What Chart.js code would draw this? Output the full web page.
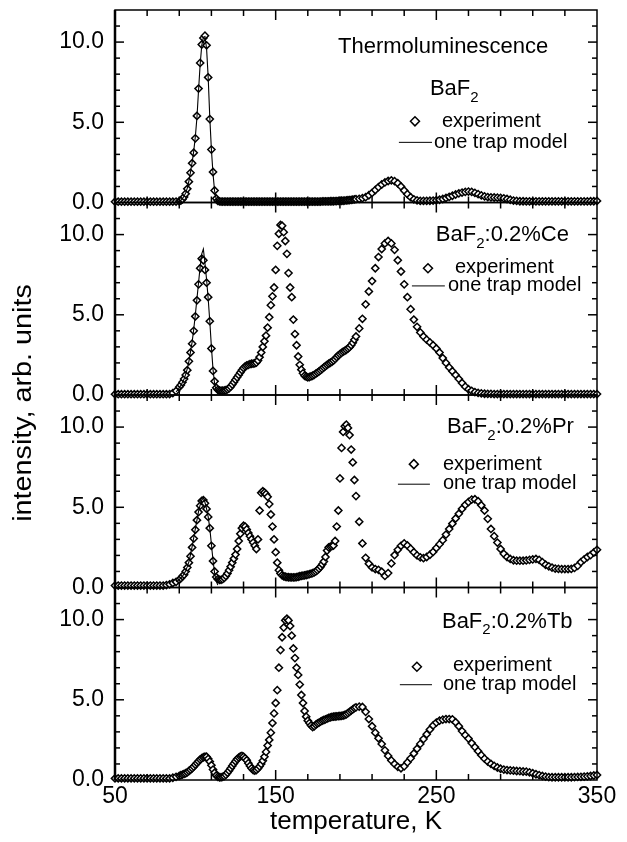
<!DOCTYPE html>
<html><head><meta charset="utf-8">
<script src="https://cdn.jsdelivr.net/npm/chart.js@4.4.1/dist/chart.umd.min.js"></script>
<style>html,body{margin:0;padding:0;background:#fff}#wrap{position:relative;width:627px;height:842px}</style>
</head><body><div id="wrap"><canvas id="c" width="627" height="842"></canvas></div>
<script>
// ---------------- data ----------------
const temperatures = [
50,52,54,56,58,60,62,64,66,68,70,72,74,76,78,80,82,84,86,88,90,
91,92,93,94,95,96,97,98,99,100,101,102,103,104,105,106,107,108,109,110,
111,112,113,114,115,116,117,118,119,120,121,122,123,124,125,126,127,128,129,130,
131,132,133,134,135,136,137,138,139,140,141,142,143,144,145,146,147,148,149,150,
151,152,153,154,155,156,157,158,159,160,161,162,163,164,165,166,167,168,169,170,
171,172,173,174,175,176,177,178,179,180,181,182,183,184,185,186,187,188,189,190,
191,192,193,194,195,196,197,198,199,200,
202,204,206,208,210,212,214,216,218,220,222,224,226,228,230,232,234,236,238,240,
242,244,246,248,250,252,254,256,258,260,262,264,266,268,270,272,274,276,278,280,
282,284,286,288,290,292,294,296,298,300,302,304,306,308,310,312,314,316,318,320,
322,324,326,328,330,332,334,336,338,340,342,344,346,348,350];

const baf2Experiment = [
0.05,0.05,0.05,0.05,0.05,0.05,0.05,0.05,0.05,0.05,0.05,0.05,0.05,0.05,0.05,0.05,0.05,0.05,0.05,0.06,0.08,
0.12,0.2,0.35,0.55,0.85,1.3,1.85,2.45,3.1,4.0,
5.4,7.1,8.7,9.85,10.25,10.4,9.8,7.8,5.2,3.3,
1.9,0.75,0.25,0.1,0.07,0.06,0.06,0.06,0.06,0.06,
0.06,0.06,0.06,0.06,0.06,0.06,0.06,0.06,0.06,0.06,
0.06,0.06,0.06,0.06,0.06,0.06,0.06,0.06,0.06,0.06,
0.06,0.06,0.06,0.06,0.06,0.06,0.06,0.06,0.06,0.06,
0.06,0.06,0.06,0.06,0.06,0.06,0.06,0.06,0.06,0.06,
0.06,0.06,0.06,0.06,0.06,0.06,0.06,0.06,0.06,0.06,
0.06,0.06,0.06,0.06,0.06,0.06,0.06,0.06,0.07,0.07,
0.07,0.07,0.07,0.08,0.08,0.08,0.09,0.09,0.1,0.1,
0.11,0.11,0.12,0.13,0.14,0.15,0.16,0.18,0.19,0.21,
0.23,0.27,0.33,0.45,0.6,0.78,0.96,1.12,1.25,1.34,
1.38,1.33,1.2,1.0,0.75,0.52,0.33,0.2,0.13,0.1,
0.1,0.1,0.11,0.12,0.14,0.17,0.22,0.28,0.35,0.42,
0.5,0.57,0.62,0.66,0.68,0.66,0.6,0.52,0.44,0.38,
0.34,0.32,0.31,0.3,0.29,0.26,0.22,0.17,0.12,0.1,
0.08,0.08,0.07,0.07,0.07,0.07,0.07,0.07,0.07,0.07,
0.07,0.07,0.07,0.07,0.07,0.07,0.07,0.07,0.07,0.07,
0.07,0.07,0.08,0.08,0.1];

const ceExperiment = [
0.05,0.05,0.05,0.05,0.05,0.05,0.05,0.05,0.05,0.05,0.05,0.05,0.05,0.05,0.05,0.05,0.05,0.06,0.12,0.25,0.5,
0.62,0.8,1.0,1.25,1.55,2.1,2.65,3.2,4.0,4.9,
5.9,6.9,7.9,8.5,8.4,7.8,7.0,6.1,4.6,2.9,
1.5,0.85,0.45,0.32,0.28,0.27,0.27,0.28,0.3,0.35,
0.42,0.52,0.65,0.8,0.95,1.1,1.25,1.4,1.55,1.68,
1.78,1.84,1.88,1.92,1.95,1.96,1.98,2.02,2.15,2.36,
2.65,3.0,3.35,3.7,4.2,4.85,5.6,6.15,6.7,7.8,
9.3,10.05,10.6,10.55,10.15,9.6,8.8,7.6,6.7,6.1,
4.7,3.8,3.1,2.4,1.88,1.58,1.35,1.2,1.14,1.1,
1.12,1.16,1.2,1.26,1.33,1.4,1.47,1.55,1.63,1.72,
1.8,1.88,1.95,2.01,2.07,2.15,2.25,2.36,2.47,2.55,
2.63,2.7,2.75,2.82,2.9,2.98,3.1,3.25,3.45,3.65,
4.15,4.75,5.65,6.45,7.1,7.9,8.6,9.1,9.45,9.6,
9.45,9.05,8.4,7.7,6.9,6.1,5.35,4.7,4.25,3.9,
3.65,3.45,3.28,3.1,2.9,2.65,2.3,2.0,1.72,1.48,
1.25,1.0,0.75,0.52,0.36,0.26,0.18,0.13,0.1,0.08,
0.07,0.07,0.06,0.06,0.06,0.06,0.06,0.06,0.06,0.06,
0.06,0.06,0.06,0.06,0.06,0.06,0.06,0.06,0.06,0.06,
0.06,0.06,0.06,0.06,0.06,0.06,0.06,0.06,0.06,0.06,
0.06,0.06,0.06,0.06,0.06];

const prExperiment = [
0.12,0.12,0.12,0.12,0.12,0.12,0.12,0.12,0.12,0.12,0.12,0.12,0.12,0.12,0.12,0.12,0.15,0.2,0.28,0.35,0.48,
0.58,0.7,0.8,1.0,1.25,1.55,1.95,2.5,3.05,3.6,
4.2,4.7,5.1,5.4,5.45,5.25,4.9,4.4,3.7,2.6,
1.65,1.0,0.65,0.52,0.48,0.48,0.52,0.6,0.72,0.88,
1.08,1.3,1.55,1.8,2.05,2.4,2.9,3.35,3.7,3.85,
3.8,3.62,3.4,3.2,3.0,2.8,2.6,2.4,3.0,4.8,
5.9,6.0,5.92,5.82,5.65,5.2,4.55,3.8,3.0,2.2,
1.55,1.08,0.88,0.76,0.7,0.67,0.65,0.64,0.63,0.63,
0.63,0.63,0.65,0.67,0.7,0.72,0.74,0.76,0.78,0.8,
0.83,0.86,0.9,0.94,1.0,1.08,1.18,1.3,1.45,1.62,
1.9,2.3,2.5,2.55,2.58,2.62,2.9,3.8,4.8,6.8,
8.7,9.7,10.05,10.15,9.95,9.5,8.6,7.8,6.7,5.7,
4.1,2.75,1.85,1.48,1.25,1.15,1.1,0.98,0.72,0.9,
1.5,2.02,2.35,2.6,2.75,2.62,2.42,2.2,2.0,1.88,
1.83,1.9,2.04,2.22,2.46,2.7,2.95,3.3,3.65,3.98,
4.3,4.6,4.9,5.15,5.33,5.48,5.5,5.38,5.12,4.8,
4.28,3.65,3.2,2.8,2.4,2.1,1.9,1.78,1.7,1.67,
1.67,1.67,1.69,1.72,1.75,1.78,1.72,1.58,1.42,1.32,
1.24,1.18,1.16,1.15,1.15,1.15,1.16,1.22,1.35,1.58,
1.75,1.9,2.02,2.18,2.35];

const tbExperiment = [
0.1,0.1,0.1,0.1,0.1,0.1,0.1,0.1,0.1,0.1,0.1,0.1,0.1,0.1,0.1,0.1,0.1,0.1,0.14,0.2,0.26,
0.3,0.34,0.38,0.42,0.48,0.56,0.64,0.73,0.83,0.95,
1.06,1.17,1.28,1.36,1.42,1.45,1.45,1.32,1.15,0.92,
0.65,0.45,0.28,0.2,0.17,0.17,0.2,0.24,0.32,0.45,
0.58,0.73,0.88,1.03,1.17,1.3,1.4,1.47,1.5,1.45,
1.35,1.23,1.05,0.88,0.73,0.62,0.58,0.62,0.72,0.85,
1.0,1.2,1.45,1.75,2.15,2.5,2.95,3.55,4.15,4.8,
5.6,7.0,8.1,8.9,9.5,9.95,10.05,9.95,9.6,9.0,
8.2,7.6,7.0,6.55,5.95,5.3,4.8,4.3,3.95,3.7,
3.55,3.4,3.3,3.35,3.45,3.52,3.58,3.64,3.7,3.74,
3.78,3.83,3.87,3.9,3.93,3.95,3.96,3.97,3.98,3.99,
4.0,4.02,4.05,4.1,4.17,4.25,4.33,4.4,4.48,4.53,
4.57,4.55,4.25,3.8,3.35,2.95,2.6,2.25,1.85,1.5,
1.22,1.0,0.82,0.73,0.85,1.1,1.35,1.65,1.95,2.25,
2.55,2.85,3.15,3.4,3.58,3.7,3.76,3.8,3.8,3.78,
3.6,3.35,3.05,2.8,2.58,2.3,2.05,1.8,1.55,1.33,
1.15,1.0,0.88,0.78,0.7,0.65,0.62,0.6,0.58,0.56,
0.55,0.53,0.52,0.48,0.42,0.36,0.3,0.25,0.21,0.18,
0.17,0.17,0.17,0.17,0.17,0.17,0.17,0.18,0.19,0.2,
0.21,0.23,0.25,0.28,0.31];

const modelTemperatures = [88,89,90,91,92,93,94,95,96,97,98,99,100,101,102,103,104,105,106,107,108,109,110,111,112,113,114];
const baf2Model = [0.02,0.04,0.08,0.14,0.24,0.4,0.6,0.9,1.35,1.9,2.5,3.2,4.1,5.3,7.0,8.6,9.8,10.3,10.35,9.6,7.8,5.3,3.3,1.8,0.7,0.2,0.05];
const ceModel   = [0.2,0.3,0.45,0.6,0.8,1.0,1.3,1.65,2.1,2.7,3.3,4.1,5.0,6.0,7.0,8.0,8.8,9.1,8.2,7.2,6.0,4.6,3.0,1.6,0.7,0.25,0.1];
const prModel   = [0.35,0.42,0.5,0.6,0.7,0.85,1.05,1.3,1.6,2.05,2.55,3.1,3.65,4.2,4.75,5.15,5.45,5.6,5.3,4.9,4.4,3.7,2.7,1.7,0.9,0.4,0.15];

const xTickLabels = [50,150,250,350];
const yTickLabels = [0,5,10];
const panelLabels = [['BaF','2',''],['BaF','2',':0.2%Ce'],['BaF','2',':0.2%Pr'],['BaF','2',':0.2%Tb']];
const panelExperiments = [baf2Experiment, ceExperiment, prExperiment, tbExperiment];
const panelModels = [baf2Model, ceModel, prModel, null];

// ---------------- layout / style ----------------
const FONT = "'Liberation Sans', Arial, sans-serif";
const axisIds = ['y1','y2','y3','y4'];
const legendLayout = [
  {label:[246,7.06], title:[188.8,9.7], mark:[236.7,5.06], expText:[253.5,5.06], line:[226.7,247.3,3.75], modelText:[248.5,3.75]},
  {label:[249.7,9.97], mark:[244.8,7.9], expText:[261.6,7.95], line:[234.8,255.3,6.8], modelText:[257.2,6.82]},
  {label:[256.6,10.0], mark:[236,7.69], expText:[254.1,7.69], line:[226.1,246,6.44], modelText:[254.1,6.47]},
  {label:[253.5,9.88], mark:[237.9,7.06], expText:[260.3,7.15], line:[227.3,247.3,5.94], modelText:[254.1,5.94]}
];

Chart.defaults.font.family = FONT;
Chart.defaults.color = '#000';

const datasets = [];
panelExperiments.forEach((vals, i) => {
  datasets.push({
    label: 'experiment ' + (i+1),
    data: temperatures.map((t, j) => ({x: t, y: vals[j]})),
    yAxisID: axisIds[i], showLine: false,
    pointStyle: 'rectRot', pointRadius: 3.6, pointBorderWidth: 1.5,
    pointBorderColor: '#000', pointBackgroundColor: '#fff',
    order: 2, clip: false
  });
  if (panelModels[i]) {
    datasets.push({
      label: 'model ' + (i+1),
      data: modelTemperatures.map((t, j) => ({x: t, y: panelModels[i][j]})),
      yAxisID: axisIds[i], showLine: true, pointRadius: 0,
      borderColor: '#000', borderWidth: 1.1, tension: 0,
      order: 1, clip: false
    });
  }
});

const yScale = (w) => ({
  type: 'linear', position: 'left', stack: 'panels', stackWeight: 1, weight: w,
  min: 0, max: 12,
  afterBuildTicks: s => { s.ticks = yTickLabels.map(v => ({value: v})); },
  afterFit: s => { s.width = 115; s.paddingTop = 0; s.paddingBottom = 0; },
  ticks: {callback: v => Number(v).toFixed(1), font: {size: 23}, color: '#000', padding: 11},
  grid: {display: false, drawTicks: false}, border: {display: false}
});

function line(ctx, x1, y1, x2, y2) { ctx.beginPath(); ctx.moveTo(x1, y1); ctx.lineTo(x2, y2); ctx.stroke(); }

function drawRich(ctx, parts, x, y, size) {
  ctx.textAlign = 'left'; ctx.textBaseline = 'middle';
  let cx = x;
  ctx.font = size + 'px ' + FONT;
  ctx.fillText(parts[0], cx, y); cx += ctx.measureText(parts[0]).width;
  ctx.font = Math.round(size * 0.68) + 'px ' + FONT;
  ctx.fillText(parts[1], cx, y + size * 0.38); cx += ctx.measureText(parts[1]).width;
  ctx.font = size + 'px ' + FONT;
  if (parts[2]) ctx.fillText(parts[2], cx, y);
}

const framePlugin = {
  id: 'frames',
  afterDraw(chart) {
    const {ctx, chartArea: a, scales} = chart;
    const xs = scales.x;
    ctx.save();
    ctx.strokeStyle = '#000'; ctx.fillStyle = '#000';
    axisIds.forEach((id, i) => {
      const ys = scales[id];
      const top = ys.getPixelForValue(12), bottom = ys.getPixelForValue(0);
      ctx.lineWidth = 1.5;
      ctx.strokeRect(a.left, top, a.right - a.left, bottom - top);
      for (let v = 1; v < 12; v++) {
        const y = ys.getPixelForValue(v);
        const len = (v % 5 === 0) ? 9 : 5;
        line(ctx, a.left, y, a.left + len, y);
        line(ctx, a.right, y, a.right - len, y);
      }
      for (let t = 70; t < 350; t += 20) {
        const x = xs.getPixelForValue(t);
        const len = ((t - 50) % 100 === 0) ? 10 : 6;
        line(ctx, x, top, x, top + len);
        line(ctx, x, bottom, x, bottom - len);
      }
      // legend
      const L = legendLayout[i];
      const px = v => xs.getPixelForValue(v), py = v => ys.getPixelForValue(v);
      ctx.fillStyle = '#000';
      if (L.title) { ctx.font = '22px ' + FONT; ctx.textAlign = 'left'; ctx.textBaseline = 'middle'; ctx.fillText('Thermoluminescence', px(L.title[0]), py(L.title[1])); }
      drawRich(ctx, panelLabels[i], px(L.label[0]), py(L.label[1]), 22);
      const mx = px(L.mark[0]), my = py(L.mark[1]), r = 4.5;
      ctx.lineWidth = 1.5;
      ctx.beginPath(); ctx.moveTo(mx, my - r); ctx.lineTo(mx + r, my); ctx.lineTo(mx, my + r); ctx.lineTo(mx - r, my); ctx.closePath();
      ctx.fillStyle = '#fff'; ctx.fill(); ctx.stroke(); ctx.fillStyle = '#000';
      ctx.font = '20px ' + FONT; ctx.textAlign = 'left'; ctx.textBaseline = 'middle';
      ctx.fillText('experiment', px(L.expText[0]), py(L.expText[1]));
      ctx.lineWidth = 1;
      line(ctx, px(L.line[0]), py(L.line[2]), px(L.line[1]), py(L.line[2]));
      ctx.fillText('one trap model', px(L.modelText[0]), py(L.modelText[1]));
    });
    ctx.lineWidth = 2.5;
    line(ctx, a.left, a.top, a.left, a.bottom);
    // y title
    ctx.save();
    ctx.translate(24, 403);
    ctx.rotate(-Math.PI / 2);
    ctx.scale(1.15, 1);
    ctx.font = '25px ' + FONT; ctx.textAlign = 'center'; ctx.textBaseline = 'middle';
    ctx.fillText('intensity, arb. units', 0, 0);
    ctx.restore();
    ctx.restore();
  }
};

new Chart(document.getElementById('c'), {
  type: 'scatter',
  data: {datasets},
  options: {
    responsive: false, animation: false, devicePixelRatio: 1,
    layout: {padding: {left: 0, right: 30, top: 10, bottom: 0}},
    plugins: {legend: {display: false}, tooltip: {enabled: false}},
    scales: {
      x: {
        type: 'linear', position: 'bottom', min: 50, max: 350,
        afterBuildTicks: s => { s.ticks = xTickLabels.map(v => ({value: v})); },
        afterFit: s => { s.height = 62; s.paddingLeft = 0; s.paddingRight = 0; },
        ticks: {font: {size: 23}, color: '#000', padding: 3, maxRotation: 0, autoSkip: false},
        grid: {display: false, drawTicks: false}, border: {display: false},
        title: {display: true, text: 'temperature, K', font: {size: 26}, color: '#000', padding: {top: 0, bottom: 5}}
      },
      y4: yScale(1), y3: yScale(2), y2: yScale(3), y1: yScale(4)
    }
  },
  plugins: [framePlugin]
});
</script></body></html>
